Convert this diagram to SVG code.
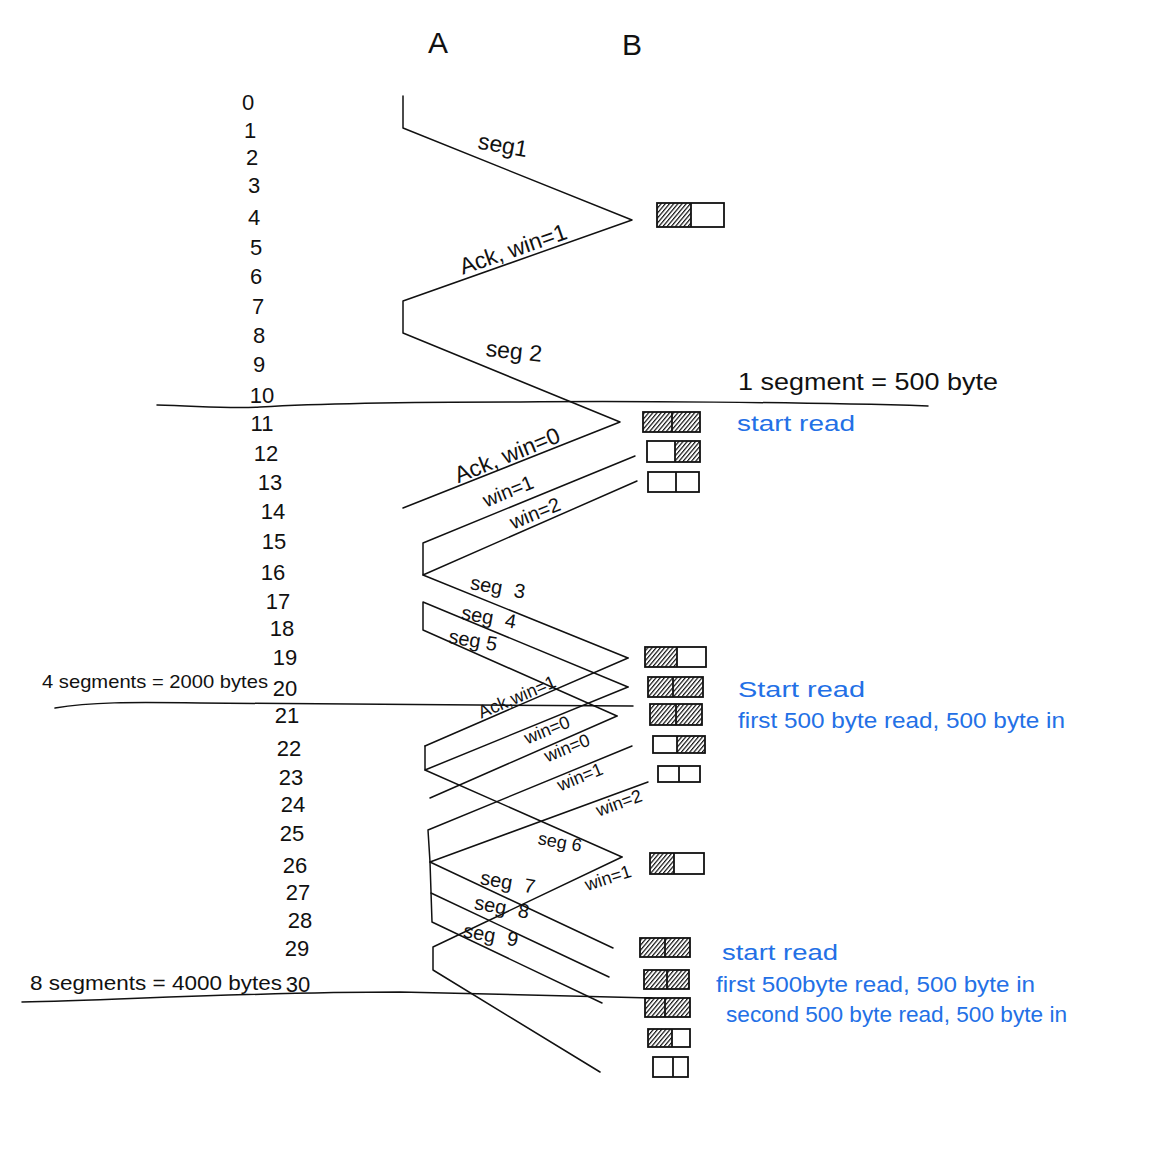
<svg xmlns="http://www.w3.org/2000/svg" width="1176" height="1152" viewBox="0 0 1176 1152">
<defs>
<pattern id="hatch" width="3.2" height="3.2" patternUnits="userSpaceOnUse" patternTransform="rotate(40)">
<line x1="0" y1="0" x2="0" y2="3.2" stroke="#111" stroke-width="2.4"/>
</pattern>
</defs>
<style>
.ln{fill:none;stroke:#111;stroke-width:1.5;stroke-linecap:round;stroke-linejoin:round}
.bx{fill:none;stroke:#111;stroke-width:1.8}
.h{fill:url(#hatch);stroke:none}
.t{font-family:"Liberation Sans",Arial,sans-serif;fill:#111}
.n{font-family:"Liberation Sans",Arial,sans-serif;fill:#111;font-size:22px;text-anchor:middle}
.lg{font-family:"Liberation Sans",Arial,sans-serif;fill:#111;font-size:23px;text-anchor:middle}
.lb{font-family:"Liberation Sans",Arial,sans-serif;fill:#111;font-size:20px;text-anchor:middle}
.sm{font-family:"Liberation Sans",Arial,sans-serif;fill:#111;font-size:18px;text-anchor:middle}
.bl{font-family:"Liberation Sans",Arial,sans-serif;fill:#2370e6;font-size:22px}
</style>
<rect width="1176" height="1152" fill="#fff"/>

<g id="hosts">
<text class="t" x="438" y="53" font-size="30" text-anchor="middle">A</text>
<text class="t" x="632" y="55" font-size="30" text-anchor="middle">B</text>
</g>

<g id="timeline">
<text class="n" x="248" y="110">0</text>
<text class="n" x="250" y="138">1</text>
<text class="n" x="252" y="165">2</text>
<text class="n" x="254" y="193">3</text>
<text class="n" x="254" y="225">4</text>
<text class="n" x="256" y="255">5</text>
<text class="n" x="256" y="284">6</text>
<text class="n" x="258" y="314">7</text>
<text class="n" x="259" y="343">8</text>
<text class="n" x="259" y="372">9</text>
<text class="n" x="262" y="403">10</text>
<text class="n" x="262" y="431">11</text>
<text class="n" x="266" y="461">12</text>
<text class="n" x="270" y="490">13</text>
<text class="n" x="273" y="519">14</text>
<text class="n" x="274" y="549">15</text>
<text class="n" x="273" y="580">16</text>
<text class="n" x="278" y="609">17</text>
<text class="n" x="282" y="636">18</text>
<text class="n" x="285" y="665">19</text>
<text class="n" x="285" y="696">20</text>
<text class="n" x="287" y="723">21</text>
<text class="n" x="289" y="756">22</text>
<text class="n" x="291" y="785">23</text>
<text class="n" x="293" y="812">24</text>
<text class="n" x="292" y="841">25</text>
<text class="n" x="295" y="873">26</text>
<text class="n" x="298" y="900">27</text>
<text class="n" x="300" y="928">28</text>
<text class="n" x="297" y="956">29</text>
<text class="n" x="298" y="992">30</text>
</g>

<g id="dividers">
<path class="ln" d="M157,405 C200,406 230,409 260,407 C330,403 420,402 520,402 C620,401 800,402 928,406"/>
<path class="ln" d="M55,708 C90,702 130,702 200,703 C350,704 500,705 633,706"/>
<path class="ln" d="M22,1002 C120,1000 250,992 400,992 C500,994 580,996 652,998"/>
</g>

<g id="connectors">
<polyline class="ln" points="403,96 403,128 632,220 403,301 403,333 620,422 403,508"/>
<polyline class="ln" points="635,456 423,543 423,575 637,481"/>
<line class="ln" x1="423" y1="575" x2="628" y2="658"/>
<polyline class="ln" points="628,687 423,602 423,630 617,716"/>
<line class="ln" x1="628" y1="658" x2="425" y2="746"/>
<polyline class="ln" points="425,746 425,770 628,687"/>
<line class="ln" x1="617" y1="716" x2="430" y2="798"/>
<line class="ln" x1="425" y1="770" x2="622" y2="857"/>
<polyline class="ln" points="632,746 428,830 430,862 648,782"/>
<polyline class="ln" points="430,862 432,922 602,1003"/>
<line class="ln" x1="430" y1="862" x2="613" y2="948"/>
<line class="ln" x1="431" y1="893" x2="609" y2="977"/>
<polyline class="ln" points="622,857 433,947 433,970 600,1072"/>
</g>

<g id="labels">
<text class="lg" transform="rotate(10 503 145)" x="503" y="153">seg1</text>
<text class="lg" transform="rotate(-19 513 249)" x="513" y="257">Ack, win=1</text>
<text class="lg" transform="rotate(6 514 351)" x="514" y="359">seg 2</text>
<text class="lg" transform="rotate(-22 507 455)" x="507" y="463">Ack, win=0</text>
<text class="lb" transform="rotate(-22 508 491)" x="508" y="498">win=1</text>
<text class="lb" transform="rotate(-22 535 513)" x="535" y="520">win=2</text>
<text class="lb" transform="rotate(10 498 587)" x="498" y="594">seg<tspan dx="12">3</tspan></text>
<text class="lb" transform="rotate(10 489 617)" x="489" y="624">seg<tspan dx="12">4</tspan></text>
<text class="lb" transform="rotate(10 473 640)" x="473" y="647">seg 5</text>
<text class="sm" transform="rotate(-23 517 697)" x="517" y="703" font-size="16">Ack,win=1</text>
<text class="sm" transform="rotate(-22 547 730)" x="547" y="736">win=0</text>
<text class="sm" transform="rotate(-22 567 748)" x="567" y="754">win=0</text>
<text class="sm" transform="rotate(-22 580 777)" x="580" y="783">win=1</text>
<text class="sm" transform="rotate(-20 619 803)" x="619" y="809">win=2</text>
<text class="sm" transform="rotate(10 560 842)" x="560" y="848">seg 6</text>
<text class="lb" transform="rotate(10 508 882)" x="508" y="889">seg<tspan dx="12">7</tspan></text>
<text class="sm" transform="rotate(-18 608 878)" x="608" y="884">win=1</text>
<text class="lb" transform="rotate(10 502 907)" x="502" y="914">seg<tspan dx="12">8</tspan></text>
<text class="lb" transform="rotate(10 491 935)" x="491" y="942">seg<tspan dx="12">9</tspan></text>
<text class="t" x="738" y="390" font-size="24" textLength="260" lengthAdjust="spacingAndGlyphs">1 segment = 500 byte</text>
<text class="t" x="42" y="688" font-size="19" textLength="226" lengthAdjust="spacingAndGlyphs">4 segments = 2000 bytes</text>
<text class="t" x="30" y="990" font-size="21" textLength="252" lengthAdjust="spacingAndGlyphs">8 segments = 4000 bytes</text>
</g>

<g id="notes">
<text class="bl" x="737" y="431" textLength="118" lengthAdjust="spacingAndGlyphs">start read</text>
<text class="bl" x="738" y="697" textLength="127" lengthAdjust="spacingAndGlyphs">Start read</text>
<text class="bl" x="738" y="728" textLength="327" lengthAdjust="spacingAndGlyphs">first 500 byte read, 500 byte in</text>
<text class="bl" x="722" y="960" textLength="116" lengthAdjust="spacingAndGlyphs">start read</text>
<text class="bl" x="716" y="992" textLength="319" lengthAdjust="spacingAndGlyphs">first 500byte read, 500 byte in</text>
<text class="bl" x="726" y="1022" textLength="341" lengthAdjust="spacingAndGlyphs">second 500 byte read, 500 byte in</text>
</g>

<g id="buf1"><rect class="h" x="657" y="203" width="34" height="24"/><rect class="bx" x="657" y="203" width="67" height="24"/><line class="bx" x1="691" y1="203" x2="691" y2="227"/></g>
<g id="buf2"><rect class="h" x="643" y="412" width="57" height="20"/><rect class="bx" x="643" y="412" width="57" height="20"/><line class="bx" x1="672" y1="412" x2="672" y2="432"/></g>
<g id="buf3"><rect class="h" x="675" y="441" width="25" height="21"/><rect class="bx" x="647" y="441" width="53" height="21"/><line class="bx" x1="675" y1="441" x2="675" y2="462"/></g>
<g id="buf4"><rect class="bx" x="648" y="472" width="51" height="20"/><line class="bx" x1="676" y1="472" x2="676" y2="492"/></g>
<g id="buf5"><rect class="h" x="645" y="647" width="32" height="20"/><rect class="bx" x="645" y="647" width="61" height="20"/><line class="bx" x1="677" y1="647" x2="677" y2="667"/></g>
<g id="buf6"><rect class="h" x="648" y="677" width="55" height="20"/><rect class="bx" x="648" y="677" width="55" height="20"/><line class="bx" x1="673" y1="677" x2="673" y2="697"/></g>
<g id="buf7"><rect class="h" x="650" y="704" width="52" height="21"/><rect class="bx" x="650" y="704" width="52" height="21"/><line class="bx" x1="676" y1="704" x2="676" y2="725"/></g>
<g id="buf8"><rect class="h" x="677" y="736" width="28" height="17"/><rect class="bx" x="653" y="736" width="52" height="17"/><line class="bx" x1="677" y1="736" x2="677" y2="753"/></g>
<g id="buf9"><rect class="bx" x="658" y="766" width="42" height="16"/><line class="bx" x1="679" y1="766" x2="679" y2="782"/></g>
<g id="buf10"><rect class="h" x="650" y="853" width="24" height="21"/><rect class="bx" x="650" y="853" width="54" height="21"/><line class="bx" x1="674" y1="853" x2="674" y2="874"/></g>
<g id="buf11"><rect class="h" x="640" y="938" width="50" height="19"/><rect class="bx" x="640" y="938" width="50" height="19"/><line class="bx" x1="665" y1="938" x2="665" y2="957"/></g>
<g id="buf12"><rect class="h" x="644" y="970" width="45" height="19"/><rect class="bx" x="644" y="970" width="45" height="19"/><line class="bx" x1="667" y1="970" x2="667" y2="989"/></g>
<g id="buf13"><rect class="h" x="645" y="998" width="45" height="19"/><rect class="bx" x="645" y="998" width="45" height="19"/><line class="bx" x1="665" y1="998" x2="665" y2="1017"/></g>
<g id="buf14"><rect class="h" x="648" y="1029" width="24" height="18"/><rect class="bx" x="648" y="1029" width="42" height="18"/><line class="bx" x1="672" y1="1029" x2="672" y2="1047"/></g>
<g id="buf15"><rect class="bx" x="653" y="1057" width="35" height="20"/><line class="bx" x1="673" y1="1057" x2="673" y2="1077"/></g>
</svg>
